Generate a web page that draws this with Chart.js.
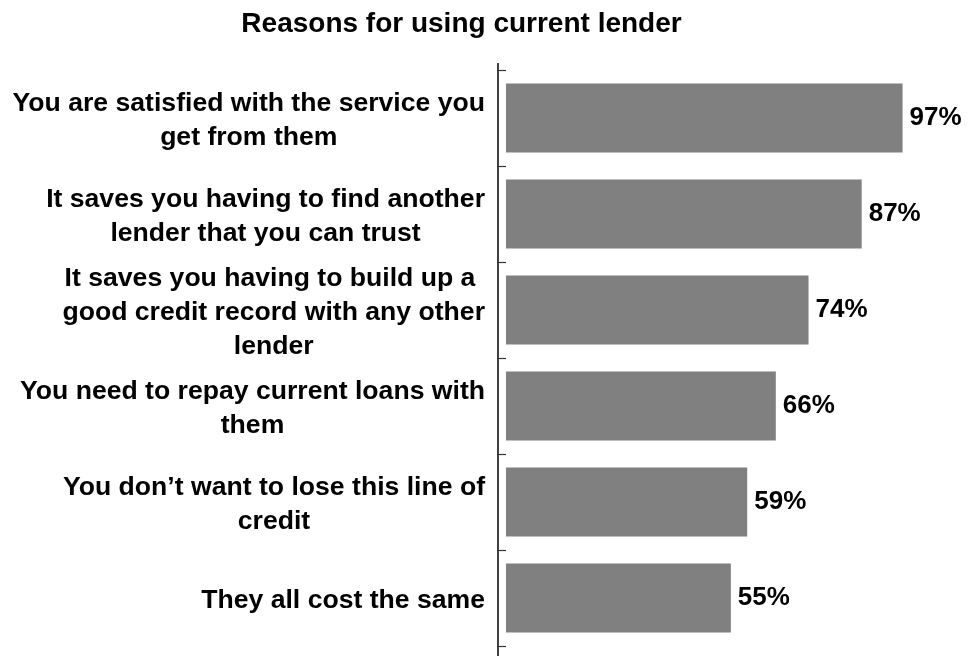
<!DOCTYPE html>
<html>
<head>
<meta charset="utf-8">
<title>Reasons for using current lender</title>
<script src="https://cdn.jsdelivr.net/npm/chart.js@4.4.1/dist/chart.umd.min.js"></script>
<style>
  html, body { margin: 0; padding: 0; background: #ffffff; }
  #wrap { width: 967px; height: 656px; }
</style>
</head>
<body>
<div id="wrap"><canvas id="chart-lender" width="967" height="656"></canvas></div>
<script>
// --- Datos ---
const reasonLabels = [
  ['You are satisfied with the service you', 'get from them'],
  ['It saves you having to find another', 'lender that you can trust'],
  ['It saves you having to build up a ', 'good credit record with any other', 'lender'],
  ['You need to repay current loans with', 'them'],
  ['You don\u2019t want to lose this line of', 'credit'],
  ['They all cost the same'],
];
const reasonValues = [97, 87, 74, 66, 59, 55];

const FONT_FAMILY = "'Liberation Sans', Arial, Helvetica, sans-serif";
const BAR_COLOR = '#808080';
const TEXT_COLOR = '#000000';
const AXIS_COLOR = '#000000';

// Eje vertical con marcas hacia dentro, entre categorías
const axisPlugin = {
  id: 'leftAxis',
  afterDraw(chart) {
    const { ctx, chartArea } = chart;
    const y = chart.scales.y;
    const axisX = chartArea.left - 8;
    const step = y.getPixelForValue(1) - y.getPixelForValue(0);
    ctx.save();
    ctx.strokeStyle = AXIS_COLOR;
    ctx.lineWidth = 1.5;
    ctx.beginPath();
    ctx.moveTo(axisX, chartArea.top - 7);
    ctx.lineTo(axisX, chart.height);
    ctx.stroke();
    ctx.lineWidth = 1.2;
    ctx.strokeStyle = '#333333';
    for (let i = 0; i <= reasonLabels.length; i++) {
      const ty = Math.round(y.getPixelForValue(i) - step / 2) + 0.5;
      ctx.beginPath();
      ctx.moveTo(axisX - 1, ty);
      ctx.lineTo(chartArea.left, ty);
      ctx.stroke();
    }
    ctx.restore();
  },
};

// Etiquetas de categoría: bloque alineado a la derecha, líneas centradas entre sí
const categoryLabelPlugin = {
  id: 'categoryLabels',
  afterDraw(chart) {
    const { ctx, chartArea } = chart;
    const y = chart.scales.y;
    const rightEdge = chartArea.left - 21;
    const lineHeight = 33.8;
    ctx.save();
    ctx.font = `bold 26.6px ${FONT_FAMILY}`;
    ctx.fillStyle = TEXT_COLOR;
    ctx.textAlign = 'center';
    ctx.textBaseline = 'middle';
    reasonLabels.forEach((lines, i) => {
      const widest = Math.max(...lines.map(l => ctx.measureText(l).width));
      const cx = rightEdge - widest / 2;
      const cy = y.getPixelForValue(i) + 2.5;
      const startY = cy - (lines.length - 1) * lineHeight / 2;
      lines.forEach((line, j) => ctx.fillText(line, cx, startY + j * lineHeight));
    });
    ctx.restore();
  },
};

// Porcentaje al final de cada barra
const valueLabelPlugin = {
  id: 'valueLabels',
  afterDatasetsDraw(chart) {
    const { ctx } = chart;
    const meta = chart.getDatasetMeta(0);
    ctx.save();
    ctx.font = `bold 26px ${FONT_FAMILY}`;
    ctx.fillStyle = TEXT_COLOR;
    ctx.textAlign = 'left';
    ctx.textBaseline = 'middle';
    meta.data.forEach((bar, i) => {
      ctx.fillText(`${reasonValues[i]}%`, bar.x + 7, bar.y - 0.5);
    });
    ctx.restore();
  },
};

const ctx = document.getElementById('chart-lender').getContext('2d');
new Chart(ctx, {
  type: 'bar',
  data: {
    labels: reasonLabels,
    datasets: [{
      data: reasonValues,
      backgroundColor: BAR_COLOR,
      borderWidth: 0,
      categoryPercentage: 1,
      barPercentage: 0.72,
    }],
  },
  options: {
    indexAxis: 'y',
    responsive: false,
    animation: false,
    layout: { padding: { left: 0, right: 44, top: 0, bottom: 10 } },
    plugins: {
      legend: { display: false },
      tooltip: { enabled: false },
      title: {
        display: true,
        text: 'Reasons for using current lender',
        color: TEXT_COLOR,
        font: { family: FONT_FAMILY, size: 28, weight: 'bold', lineHeight: 1.2 },
        padding: { top: 7, bottom: 29.4 },
      },
    },
    scales: {
      x: {
        display: false,
        min: 0,
        max: 102,
      },
      y: {
        grid: { display: false },
        border: { display: false },
        ticks: { display: false },
        afterFit(scale) { scale.width = 506; },
      },
    },
  },
  plugins: [axisPlugin, categoryLabelPlugin, valueLabelPlugin],
});
</script>
</body>
</html>
